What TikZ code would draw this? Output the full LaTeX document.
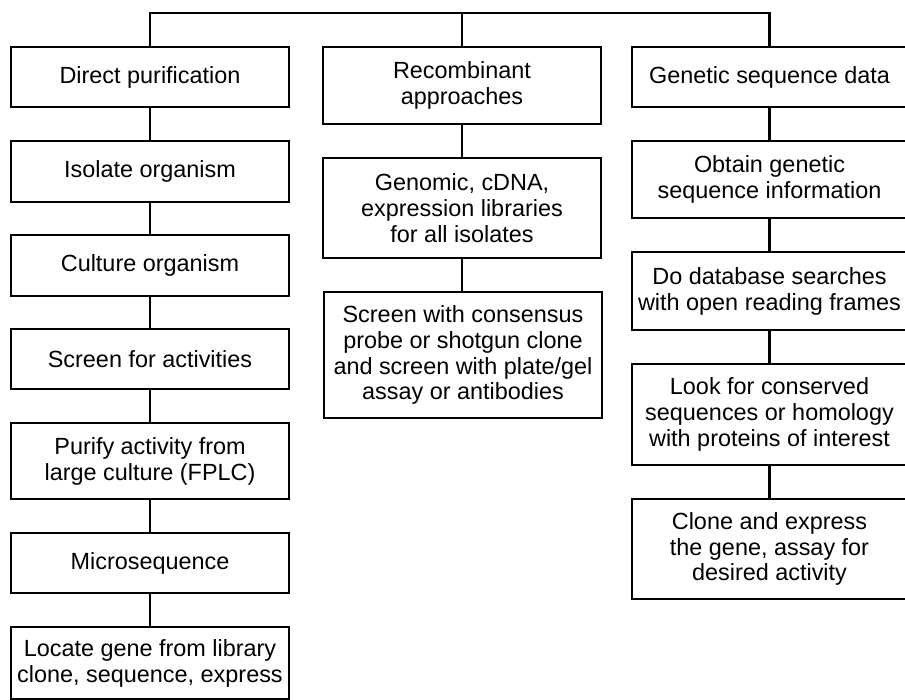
\documentclass[tikz,border=0pt]{standalone}
\usepackage{fontspec}
\setmainfont{Liberation Sans}
\begin{document}
\begin{tikzpicture}[x=1bp,y=-1bp,
  box/.style={draw=black, line width=1.4bp, fill=white, inner sep=0pt, align=center,
    font=\fontsize{23.5}{26}\selectfont, minimum width=278bp},
  wbox/.style={box, minimum width=275bp},
  conn/.style={draw=black, line width=2.8bp}]
\useasboundingbox (0,0) rectangle (905,700);
% left column
\node[box, minimum height=60bp] (a1) at (150,77) {Direct purification};
\node[box, minimum height=61bp] (a2) at (150,171.5) {Isolate organism};
\node[box, minimum height=61bp] (a3) at (150,265.5) {Culture organism};
\node[box, minimum height=60bp] (a4) at (150,359) {Screen for activities};
\node[box, minimum height=76bp] (a5) at (150,461) {Purify activity from\\large culture (FPLC)};
\node[box, minimum height=60bp] (a6) at (150,563) {Microsequence};
\node[box, minimum height=72bp] (a7) at (150,663) {Locate gene from library\\clone, sequence, express};
% middle column
\node[box, minimum height=77bp] (b1) at (462,85.5) {Recombinant\\approaches};
\node[box, minimum height=100bp] (b2) at (462,208) {Genomic, cDNA,\\expression libraries\\for all isolates};
\node[box, minimum height=126bp] (b3) at (463,355) {Screen with consensus\\probe or shotgun clone\\and screen with plate/gel\\assay or antibodies};
% right column
\node[wbox, minimum height=60bp] (c1) at (769.5,77) {Genetic sequence data};
\node[wbox, minimum height=77bp] (c2) at (769.5,179.5) {Obtain genetic\\sequence information};
\node[wbox, minimum height=78bp] (c3) at (769.5,291) {Do database searches\\with open reading frames};
\node[wbox, minimum height=101bp] (c4) at (769.5,414.5) {Look for conserved\\sequences or homology\\with proteins of interest};
\node[wbox, minimum height=100bp] (c5) at (769.5,549) {Clone and express\\the gene, assay for\\desired activity};
% top bar
\coordinate (tl) at (150,13);
\coordinate (tr) at (769.5,13);
\draw[conn] (a1.north) -- (tl) -- (tr) -- (c1.north);
\draw[conn] (b1.north) -- (b1.north |- tl);
% connectors
\draw[conn] (a1.south) -- (a2.north);
\draw[conn] (a2.south) -- (a3.north);
\draw[conn] (a3.south) -- (a4.north);
\draw[conn] (a4.south) -- (a5.north);
\draw[conn] (a5.south) -- (a6.north);
\draw[conn] (a6.south) -- (a7.north);
\draw[conn] (b1.south) -- (b2.north);
\draw[conn] (b2.south) -- (b2.south |- b3.north);
\draw[conn] (c1.south) -- (c2.north);
\draw[conn] (c2.south) -- (c3.north);
\draw[conn] (c3.south) -- (c4.north);
\draw[conn] (c4.south) -- (c5.north);
\end{tikzpicture}
\end{document}
